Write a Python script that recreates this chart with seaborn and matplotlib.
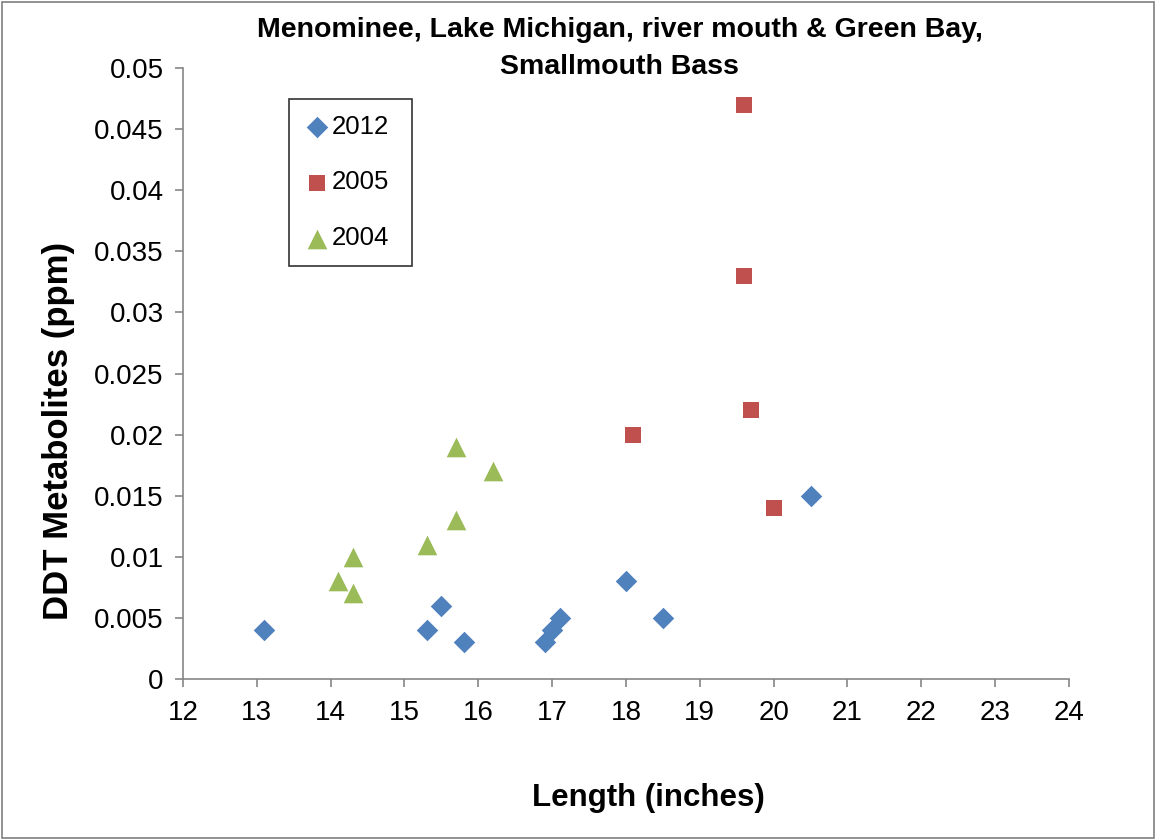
import matplotlib
matplotlib.use("Agg")
import matplotlib.pyplot as plt
import seaborn as sns
import pandas as pd

# ── Data ──────────────────────────────────────────────────────────────
len_2012 = [13.1, 15.3, 15.5, 15.8, 16.9, 17.0, 17.1, 18.0, 18.5, 20.5]
ddt_2012 = [0.004, 0.004, 0.006, 0.003, 0.003, 0.004, 0.005, 0.008, 0.005, 0.015]

len_2005 = [19.6, 19.6, 18.1, 19.7, 20.0]
ddt_2005 = [0.047, 0.033, 0.020, 0.022, 0.014]

len_2004 = [14.1, 14.3, 14.3, 15.3, 15.7, 15.7, 16.2]
ddt_2004 = [0.008, 0.010, 0.007, 0.011, 0.013, 0.019, 0.017]

x_ticks = list(range(12, 25))
y_ticks = [0, 0.005, 0.01, 0.015, 0.02, 0.025, 0.03, 0.035, 0.04, 0.045, 0.05]
y_labels = ["0", "0.005", "0.01", "0.015", "0.02", "0.025", "0.03",
            "0.035", "0.04", "0.045", "0.05"]

series = [
    ("2012", len_2012, ddt_2012, "D", "#4F81BD", 120),
    ("2005", len_2005, ddt_2005, "s", "#C0504D", 125),
    ("2004", len_2004, ddt_2004, "^", "#9BBB59", 200),
]

# ── Figure ────────────────────────────────────────────────────────────
sns.set_style("white")
plt.rcParams["font.family"] = ["Liberation Sans", "DejaVu Sans"]
plt.rcParams["text.color"] = "black"
plt.rcParams["axes.labelcolor"] = "black"
plt.rcParams["xtick.color"] = "black"
plt.rcParams["ytick.color"] = "black"

fig = plt.figure(figsize=(11.56, 8.4), dpi=100)
ax = fig.add_axes([0.1583, 0.1917, 0.7664, 0.7273])

for name, xs, ys, mk, col, sz in series:
    df = pd.DataFrame({"length": xs, "ddt": ys})
    sns.scatterplot(data=df, x="length", y="ddt", marker=mk, color=col,
                    s=sz, linewidth=0, label=name, ax=ax, clip_on=False)

ax.set_xlim(12, 24)
ax.set_ylim(0, 0.05)
ax.set_xticks(x_ticks)
ax.set_yticks(y_ticks)
ax.set_yticklabels(y_labels)
ax.tick_params(axis="both", labelsize=20, direction="out", length=6,
               width=1.2, color="#868686", left=True, bottom=True)
ax.tick_params(axis="x", pad=9)
ax.tick_params(axis="y", pad=8)

for side in ["top", "right"]:
    ax.spines[side].set_visible(False)
for side in ["left", "bottom"]:
    ax.spines[side].set_color("#868686")
    ax.spines[side].set_linewidth(1.2)

# Excel puts the axis titles a bit off-centre
ax.set_xlabel("Length (inches)", fontsize=22.5, fontweight="bold")
ax.xaxis.set_label_coords(0.525, -0.170)
ax.set_ylabel("DDT Metabolites (ppm)", fontsize=25, fontweight="bold")
ax.yaxis.set_label_coords(-0.1215, 0.406)

fig.text(0.536, 0.942, "Menominee, Lake Michigan, river mouth & Green Bay,\nSmallmouth Bass",
         fontsize=20.5, fontweight="bold", ha="center", va="center", linespacing=1.55)

leg = ax.legend(loc="upper left", bbox_to_anchor=(0.1196, 0.5, 0.1388, 0.449),
                mode="expand", fontsize=18.5,
                frameon=True, fancybox=False, handletextpad=0.05,
                labelspacing=1.24, borderpad=0.6, handlelength=1.0,
                borderaxespad=0)
leg.get_frame().set_edgecolor("black")
leg.get_frame().set_linewidth(1.2)

fig.patches.append(plt.Rectangle((0.002, 0.002), 0.996, 0.996, transform=fig.transFigure,
                                 fill=False, edgecolor="#7f7f7f", linewidth=1.2))

fig.savefig("out.png", dpi=100)
